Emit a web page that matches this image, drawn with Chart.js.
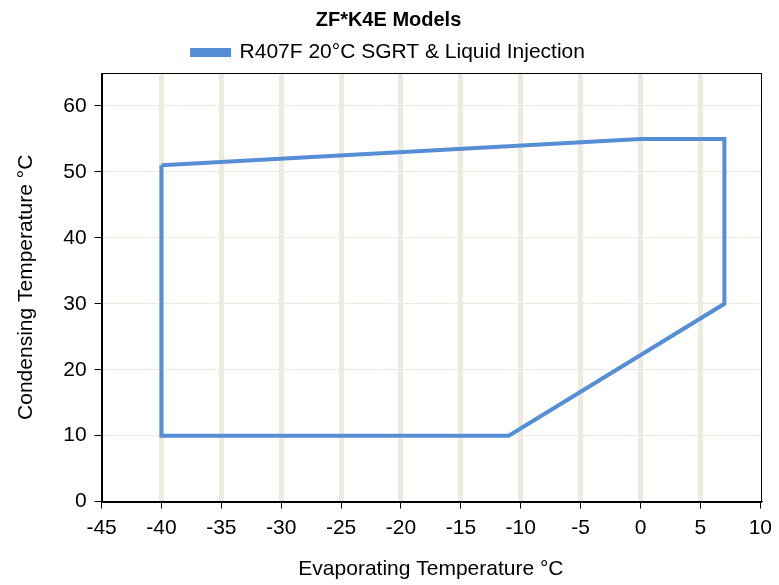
<!DOCTYPE html>
<html lang="en">
<head>
  <meta charset="UTF-8">
  <title>ZF*K4E Models</title>
  <script src="https://cdn.jsdelivr.net/npm/chart.js"></script>
  <style>
    html, body { margin: 0; padding: 0; background: #fff; }
    #wrap { width: 779px; height: 585px; }
  </style>
</head>
<body>
<div id="wrap"><canvas id="grafico"></canvas></div>
<script>
  const titulo = "ZF*K4E Models";
  const serieNome = "R407F 20°C SGRT & Liquid Injection";
  const evapTemp = [-40, 0, 7, 7, -11, -40, -40];
  const condTemp = [51, 55, 55, 30, 10, 10, 51];
  const xTicks = [-45, -40, -35, -30, -25, -20, -15, -10, -5, 0, 5, 10];
  const yTicks = [0, 10, 20, 30, 40, 50, 60];

  const fonte = "'Liberation Sans', Arial, sans-serif";
  const azul = "#558ED5";
  const grade = "#EDEAE0";

  // moldura da área do gráfico
  const moldura = {
    id: "moldura",
    afterDraw(chart) {
      const a = chart.chartArea, c = chart.ctx;
      c.save();
      c.strokeStyle = "#000";
      c.lineWidth = 1;
      c.strokeRect(Math.round(a.left) + 0.5, Math.round(a.top) + 0.5,
        Math.round(a.right - a.left), Math.round(a.bottom - a.top));
      c.restore();
    }
  };

  const pontos = evapTemp.map((x, i) => ({ x, y: condTemp[i] }));
  const ultimoX = xTicks.length - 1;

  new Chart(document.getElementById("grafico"), {
    type: "scatter",
    data: {
      datasets: [{
        label: serieNome,
        data: pontos,
        showLine: true,
        borderColor: azul,
        backgroundColor: azul,
        borderWidth: 4,
        pointRadius: 0,
        tension: 0
      }]
    },
    options: {
      responsive: true,
      maintainAspectRatio: false,
      animation: false,
      layout: { padding: { left: 14, right: 16, top: 1, bottom: 3 } },
      plugins: {
        title: {
          display: true,
          text: titulo,
          color: "#000",
          font: { family: fonte, size: 20, weight: "bold" },
          padding: { top: 7, bottom: 4 }
        },
        legend: {
          labels: {
            color: "#000",
            font: { family: fonte, size: 21 },
            boxWidth: 37,
            boxHeight: 5,
            padding: 6
          }
        },
        tooltip: { enabled: false }
      },
      scales: {
        x: {
          type: "linear",
          min: -45,
          max: 10,
          afterBuildTicks: axis => { axis.ticks = xTicks.map(v => ({ value: v })); },
          ticks: { color: "#000", font: { family: fonte, size: 21 }, padding: 7, maxRotation: 0 },
          grid: {
            color: ctx => (ctx.index === 0 || ctx.index === ultimoX) ? "rgba(0,0,0,0)" : grade,
            lineWidth: 5,
            tickColor: "#000",
            tickWidth: 1,
            tickLength: 7
          },
          border: { color: "#000", width: 1 },
          title: {
            display: true,
            text: "Evaporating Temperature °C",
            color: "#000",
            font: { family: fonte, size: 21 },
            padding: { top: 9, bottom: 0 }
          }
        },
        y: {
          type: "linear",
          min: 0,
          max: 65,
          afterBuildTicks: axis => { axis.ticks = yTicks.map(v => ({ value: v })); },
          ticks: { color: "#000", font: { family: fonte, size: 21 }, padding: 8 },
          grid: {
            color: grade,
            lineWidth: 1,
            tickColor: "#000",
            tickWidth: 1,
            tickLength: 7
          },
          border: { color: "#000", width: 1 },
          title: {
            display: true,
            text: "Condensing Temperature °C",
            color: "#000",
            font: { family: fonte, size: 21 },
            padding: { top: 0, bottom: 16 }
          }
        }
      }
    },
    plugins: [moldura]
  });
</script>
</body>
</html>
